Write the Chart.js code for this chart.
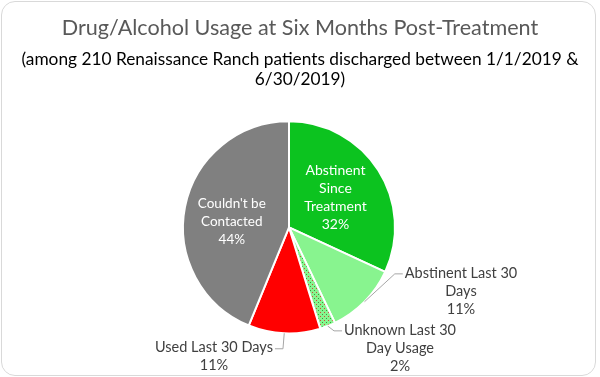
<!DOCTYPE html>
<html><head><meta charset="utf-8">
<script src="https://cdn.jsdelivr.net/npm/chart.js@4/dist/chart.umd.min.js"></script>
<style>
html,body{margin:0;padding:0;background:#fff;}
#wrap{position:relative;width:600px;height:377px;}
#frame{position:absolute;left:1px;top:1px;width:595px;height:375px;box-sizing:border-box;border:1px solid #d9d9d9;border-radius:14px;pointer-events:none;}
canvas{position:absolute;left:0;top:0;}
</style></head><body>
<div id="wrap"><canvas id="c" width="600" height="377"></canvas><div id="frame"></div></div>
<script>
// ---- data ----
const titleText = 'Drug/Alcohol Usage at Six Months Post-Treatment';
const subtitleLines = ['(among 210 Renaissance Ranch patients discharged between 1/1/2019 &', '6/30/2019)'];
const categories = ['Abstinent Since Treatment', 'Abstinent Last 30 Days', 'Unknown Last 30 Day Usage', 'Used Last 30 Days', "Couldn't be Contacted"];
const patientCounts = [67, 23, 5, 23, 92];
const labelLines = [['Abstinent', 'Since', 'Treatment'], ['Abstinent Last 30', 'Days'], ['Unknown Last 30', 'Day Usage'], ['Used Last 30 Days'], ["Couldn't be", 'Contacted']];

// ---- styles ----
const FONT = 'Lato';
const sliceColorsBase = ['#0cc31f', '#88f48f', null, '#ff0000', '#808080'];
// label placement: inside labels along slice bisector; outside labels offset from pie centre
const labelPlacement = [
  {inside: true, dist: 0.52, nudge: 0, size: 14},
  {inside: false, dx: 172, dy: 63.5, side: 1, size: 14.5},
  {inside: false, dx: 111, dy: 120.5, side: 1, size: 14.5},
  {inside: false, dx: -75, dy: 129.4, side: -1, size: 14.5},
  {inside: true, dist: 0.55, nudge: 6, size: 13.5}
];

const canvas = document.getElementById('c');
const mainCtx = canvas.getContext('2d');

function makePattern() {
  const p = document.createElement('canvas');
  p.width = 4; p.height = 4;
  const x = p.getContext('2d');
  x.fillStyle = '#88f48f'; x.fillRect(0, 0, 4, 4);
  x.fillStyle = '#d2453a'; x.fillRect(0, 0, 1, 1);
  x.fillStyle = '#2aa83a'; x.fillRect(2, 2, 1, 1);
  return mainCtx.createPattern(p, 'repeat');
}
const sliceColors = sliceColorsBase.map(c => c || makePattern());

const fullWidthTitles = {
  id: 'fullWidthTitles',
  afterLayout(chart) {
    chart.boxes.forEach(b => {
      if (b.options && b.options.text !== undefined && b.position === 'top') {
        b.left = 0; b.right = chart.width; b.width = chart.width;
      }
    });
  }
};

const sliceLabels = {
  id: 'sliceLabels',
  afterDatasetsDraw(chart) {
    const ctx = chart.ctx;
    const meta = chart.getDatasetMeta(0);
    const data = chart.data.datasets[0].data;
    const total = data.reduce((a, b) => a + b, 0);
    const lineH = 18;
    meta.data.forEach((arc, i) => {
      const {x, y, startAngle, endAngle, outerRadius} = arc.getProps(['x', 'y', 'startAngle', 'endAngle', 'outerRadius'], true);
      const mid = (startAngle + endAngle) / 2;
      const pct = Math.round(data[i] / total * 100) + '%';
      const lines = labelLines[i].concat([pct]);
      const st = labelPlacement[i];
      ctx.save();
      ctx.font = st.size + 'px ' + FONT;
      ctx.textAlign = 'center';
      ctx.textBaseline = 'middle';
      if (st.inside) {
        const cx = x + Math.cos(mid) * outerRadius * st.dist;
        const cy = y + Math.sin(mid) * outerRadius * st.dist + st.nudge;
        ctx.fillStyle = '#ffffff';
        lines.forEach((t, k) => ctx.fillText(t, cx, cy + (k - (lines.length - 1) / 2) * lineH));
      } else {
        const bx = x + st.dx, by = y + st.dy;
        const firstY = by - (lines.length - 1) / 2 * lineH;
        const w = ctx.measureText(lines[0]).width;
        const ex = st.side > 0 ? bx - w / 2 - 2 : bx + w / 2 + 2;
        const elbowX = ex - st.side * 8;
        const sx = x + Math.cos(mid) * outerRadius;
        const sy = y + Math.sin(mid) * outerRadius;
        ctx.strokeStyle = '#a6a6a6';
        ctx.lineWidth = 1;
        ctx.beginPath();
        ctx.moveTo(sx, sy);
        ctx.lineTo(elbowX, firstY + 1);
        ctx.lineTo(ex, firstY + 1);
        ctx.stroke();
        ctx.fillStyle = '#404040';
        lines.forEach((t, k) => ctx.fillText(t, bx, firstY + k * lineH));
      }
      ctx.restore();
    });
  }
};

new Chart(canvas, {
  type: 'pie',
  data: {
    labels: categories,
    datasets: [{
      data: patientCounts,
      backgroundColor: sliceColors,
      borderColor: '#ffffff',
      borderWidth: 2
    }]
  },
  options: {
    responsive: false,
    animation: false,
    radius: 106,
    layout: {padding: {left: 100, right: 122, top: 0, bottom: 12}},
    plugins: {
      legend: {display: false},
      tooltip: {enabled: false},
      title: {
        display: true, text: titleText, color: '#595959',
        font: {family: FONT, size: 21.6, weight: 'normal', lineHeight: 1.2},
        padding: {top: 15, bottom: 0}
      },
      subtitle: {
        display: true, text: subtitleLines, color: '#000000',
        font: {family: FONT, size: 17.3, weight: 'normal', lineHeight: 1.18},
        padding: {top: 8, bottom: 0}
      }
    }
  },
  plugins: [fullWidthTitles, sliceLabels]
});
</script>
</body></html>
